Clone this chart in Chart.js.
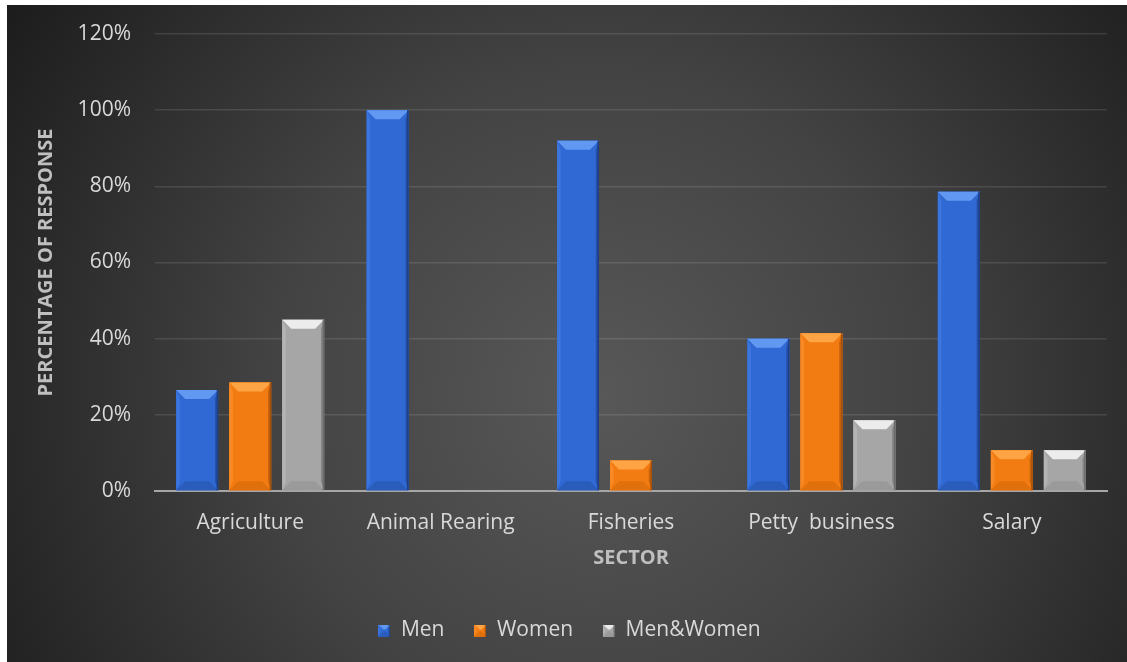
<!DOCTYPE html>
<html>
<head>
<meta charset="utf-8">
<script src="https://cdn.jsdelivr.net/npm/chart.js@4.4.1/dist/chart.umd.min.js"></script>
<style>
    html, body { margin: 0; padding: 0; background: #ffffff; }
    #wrap { position: absolute; left: 7px; top: 5px; width: 1120px; height: 657px; }
</style>
</head>
<body>
<div id="wrap"><canvas id="sectorChart"></canvas></div>
<script>
// chart data
const categories = ['Agriculture', 'Animal Rearing', 'Fisheries', 'Petty  business', 'Salary'];
const seriesNames = ['Men', 'Women', 'Men&Women'];
const menValues = [26.5, 100, 92, 40, 78.6];
const womenValues = [28.5, 0, 8, 41.4, 10.7];
const bothValues = [45, 0, 0, 18.6, 10.7];
const yMax = 120;
const yStep = 20;

// face / light / dark tones for each series
const palette = [
    { face: '#3069d4', light: '#6199f2', side: '#3b75de', dark: '#1c3f86', bottom: '#2a5cbc' },
    { face: '#f27c12', light: '#ffa445', side: '#f78a26', dark: '#a5500a', bottom: '#e0700c' },
    { face: '#a6a6a6', light: '#ececec', side: '#b4b4b4', dark: '#6c6c6c', bottom: '#9a9a9a' }
];

function drawBevelBox(ctx, left, top, right, bottom, c, bevel) {
    const w = right - left, h = bottom - top;
    const b = Math.min(bevel, w / 2, h / 2);
    ctx.save();
    ctx.fillStyle = c.face;
    ctx.fillRect(left, top, w, h);
    // left side
    ctx.fillStyle = c.side;
    ctx.beginPath();
    ctx.moveTo(left, top); ctx.lineTo(left + b * 0.4, top + b); ctx.lineTo(left + b * 0.4, bottom - b); ctx.lineTo(left, bottom);
    ctx.fill();
    // right side
    ctx.fillStyle = c.dark;
    ctx.globalAlpha = 0.55;
    ctx.beginPath();
    ctx.moveTo(right, top); ctx.lineTo(right - b * 0.35, top + b); ctx.lineTo(right - b * 0.35, bottom - b); ctx.lineTo(right, bottom);
    ctx.fill();
    ctx.globalAlpha = 1;
    // bottom bevel
    ctx.fillStyle = c.bottom;
    ctx.beginPath();
    ctx.moveTo(left, bottom); ctx.lineTo(right, bottom); ctx.lineTo(right - b, bottom - b); ctx.lineTo(left + b, bottom - b);
    ctx.fill();
    // top bevel
    ctx.fillStyle = c.light;
    ctx.beginPath();
    ctx.moveTo(left, top); ctx.lineTo(right, top); ctx.lineTo(right - b, top + b); ctx.lineTo(left + b, top + b);
    ctx.fill();
    // thin dark outline on the right edge
    ctx.fillStyle = c.dark;
    ctx.fillRect(right - 1.5, top, 1.5, h);
    ctx.restore();
}

// small bevelled squares for the legend
const legendIcons = palette.map(function(c) {
    const cv = document.createElement('canvas');
    cv.width = 12; cv.height = 12;
    drawBevelBox(cv.getContext('2d'), 0, 0, 12, 12, c, 5);
    return cv;
});

const backgroundPlugin = {
    id: 'darkBackground',
    beforeDraw(chart) {
        const ctx = chart.ctx;
        const w = chart.width, h = chart.height;
        const g = ctx.createRadialGradient(590, 390, 0, 590, 390, 720);
        g.addColorStop(0, '#585858');
        g.addColorStop(0.45, '#434343');
        g.addColorStop(1, '#1b1b1b');
        ctx.save();
        ctx.fillStyle = g;
        ctx.fillRect(0, 0, w, h);
        ctx.restore();
    }
};

const bevelPlugin = {
    id: 'bevelBars',
    afterDatasetsDraw(chart) {
        const ctx = chart.ctx;
        chart.data.datasets.forEach(function(ds, i) {
            const meta = chart.getDatasetMeta(i);
            if (meta.hidden) return;
            meta.data.forEach(function(bar) {
                const p = bar.getProps(['x', 'y', 'base', 'width'], true);
                const top = Math.min(p.y, p.base), bottom = Math.max(p.y, p.base);
                if (bottom - top < 1) return;
                drawBevelBox(ctx, p.x - p.width / 2, top, p.x + p.width / 2, bottom, palette[i], 9);
            });
        });
    }
};

const ctx = document.getElementById('sectorChart').getContext('2d');
new Chart(ctx, {
    type: 'bar',
    data: {
        labels: categories,
        datasets: [
            { label: seriesNames[0], data: menValues, backgroundColor: palette[0].face },
            { label: seriesNames[1], data: womenValues, backgroundColor: palette[1].face },
            { label: seriesNames[2], data: bothValues, backgroundColor: palette[2].face }
        ]
    },
    options: {
        responsive: true,
        maintainAspectRatio: false,
        animation: false,
        categoryPercentage: 0.835,
        barPercentage: 0.79,
        layout: { padding: { left: 25, right: 20, top: 29, bottom: 11 } },
        plugins: {
            tooltip: { enabled: false },
            legend: {
                position: 'bottom',
                labels: {
                    usePointStyle: true,
                    boxWidth: 12,
                    boxHeight: 12,
                    padding: 30,
                    color: '#d9d9d9',
                    font: { family: 'Open Sans', size: 21 },
                    generateLabels(chart) {
                        return chart.data.datasets.map(function(ds, i) {
                            return {
                                text: ds.label,
                                fillStyle: ds.backgroundColor,
                                strokeStyle: ds.backgroundColor,
                                lineWidth: 0,
                                pointStyle: legendIcons[i],
                                fontColor: '#d9d9d9',
                                hidden: !chart.isDatasetVisible(i),
                                datasetIndex: i
                            };
                        });
                    }
                }
            }
        },
        scales: {
            x: {
                grid: { display: false, drawTicks: false },
                border: { display: true, color: '#a6a6a6', width: 2 },
                ticks: { color: '#d9d9d9', padding: 19, font: { family: 'Open Sans', size: 21 } },
                title: {
                    display: true,
                    text: 'SECTOR',
                    color: '#bfbfbf',
                    font: { family: 'Open Sans', size: 20, weight: 'bold' },
                    padding: { top: 4, bottom: 20 }
                },
                afterFit(scale) { scale.height = 99; }
            },
            y: {
                min: 0,
                max: yMax,
                ticks: {
                    stepSize: yStep,
                    color: '#d9d9d9',
                    padding: 24,
                    font: { family: 'Open Sans', size: 21 },
                    callback: function(v) { return v + '%'; }
                },
                grid: { color: 'rgba(255,255,255,0.11)', lineWidth: 1.5, drawTicks: false },
                border: { display: false },
                title: {
                    display: true,
                    text: 'PERCENTAGE OF RESPONSE',
                    color: '#bfbfbf',
                    font: { family: 'Open Sans', size: 20, weight: 'bold' },
                    padding: { top: 2, bottom: 12 }
                },
                afterFit(scale) {
                    scale.width = 123;
                    scale.paddingTop = 0;
                    scale.paddingBottom = 0;
                }
            }
        }
    },
    plugins: [backgroundPlugin, bevelPlugin]
});
</script>
</body>
</html>
